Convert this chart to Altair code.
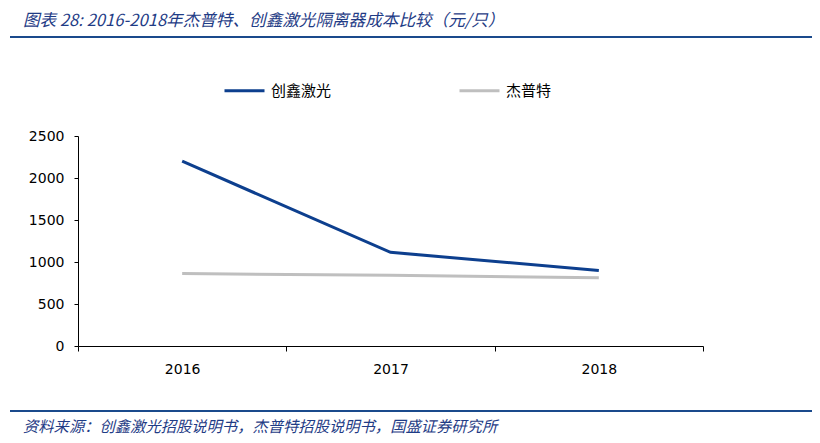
import altair as alt
import pandas as pd

years = ["2016", "2017", "2018"]
chuangxin = [2200, 1115, 900]
jiepute = [862, 842, 812]
series_names = ["创鑫激光", "杰普特"]
colors = ["#0D3F8E", "#BFBFBF"]
y_ticks = [0, 500, 1000, 1500, 2000, 2500]
title_text = "图表 28:  2016-2018年杰普特、创鑫激光隔离器成本比较（元/只）"
source_text = "资料来源：创鑫激光招股说明书，杰普特招股说明书，国盛证券研究所"

rows = []
for i, y in enumerate(years):
    rows.append({"year": y, "series": series_names[0], "value": chuangxin[i]})
    rows.append({"year": y, "series": series_names[1], "value": jiepute[i]})
df = pd.DataFrame(rows)

W, H = 625, 210
lines = alt.Chart(df).mark_line(strokeWidth=3).encode(
    x=alt.X("year:N", title=None, bandPosition=0.5,
            scale=alt.Scale(type="band", paddingInner=0, paddingOuter=0),
            axis=alt.Axis(tickBand="extent", labelAngle=0, tickSize=5, labelPadding=11)),
    y=alt.Y("value:Q", title=None,
            scale=alt.Scale(domain=[0, 2500], nice=False),
            axis=alt.Axis(values=y_ticks, format="d", tickSize=4, labelPadding=10)),
    color=alt.Color("series:N", title=None,
                    scale=alt.Scale(domain=series_names, range=colors),
                    legend=alt.Legend(orient="none", legendX=145, legendY=-67,
                                      direction="horizontal", symbolType="stroke",
                                      symbolSize=1600, symbolStrokeWidth=3,
                                      labelFontSize=15, labelFont="Noto Sans CJK SC",
                                      labelColor="#000000", labelOffset=5,
                                      columnPadding=121)),
)

one = alt.Data(values=[{}])
title = alt.Chart(one).mark_text(align="left", baseline="middle", fontSize=16.6,
                                 fontStyle="italic", font="Noto Sans CJK SC",
                                 color="#1F3C86").encode(
    x=alt.value(-55), y=alt.value(-115), text=alt.value(title_text))
top_rule = alt.Chart(one).mark_rule(color="#1A4A8C", strokeWidth=2).encode(
    x=alt.value(-68), x2=alt.value(734), y=alt.value(-99))
bottom_rule = alt.Chart(one).mark_rule(color="#1A4A8C", strokeWidth=2).encode(
    x=alt.value(-68), x2=alt.value(734), y=alt.value(275))
source = alt.Chart(one).mark_text(align="left", baseline="middle", fontSize=15.3,
                                  fontStyle="italic", font="Noto Sans CJK SC",
                                  color="#1F3C86").encode(
    x=alt.value(-55), y=alt.value(291), text=alt.value(source_text))

chart = alt.layer(lines, title, top_rule, bottom_rule, source).properties(
    width=W, height=H,
    autosize=alt.AutoSizeParams(type="none"),
    padding={"left": 70, "top": 128, "right": 109, "bottom": 97},
).configure_view(stroke=None).configure_axis(
    grid=False, domainColor="#000000", tickColor="#000000",
    labelColor="#000000", labelFont="DejaVu Sans", labelFontSize=14,
)

chart.save("out.html", embed_options={"renderer": "svg", "actions": False})
